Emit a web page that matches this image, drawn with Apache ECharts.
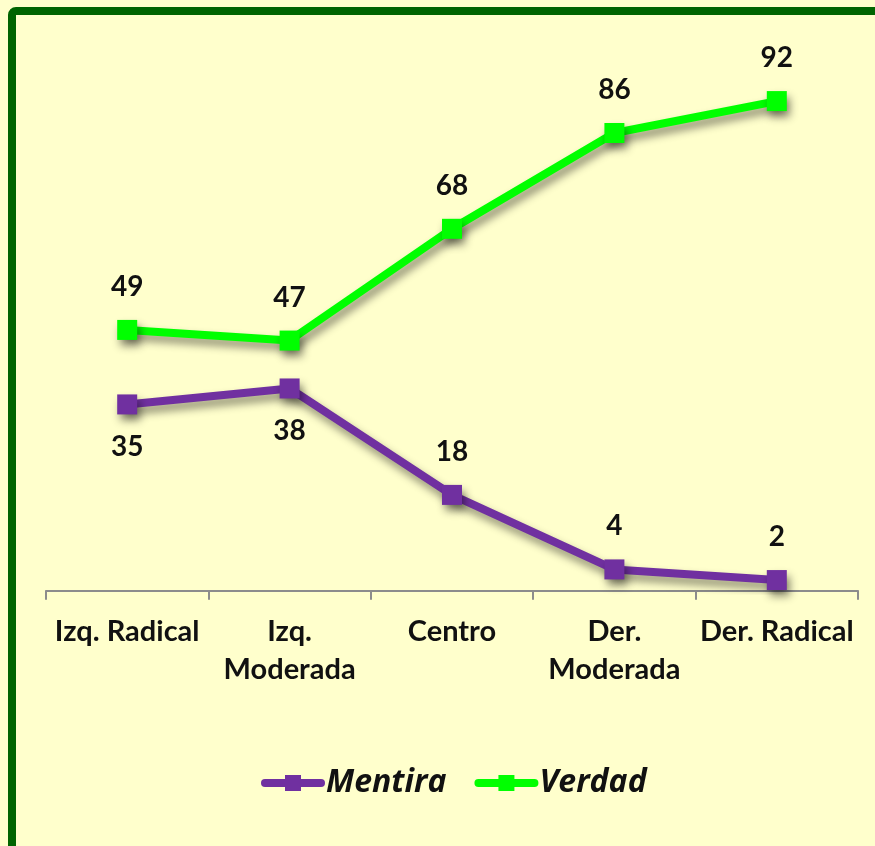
<!DOCTYPE html>
<html>
<head>
<meta charset="utf-8">
<script src="https://cdn.jsdelivr.net/npm/echarts@6/dist/echarts.min.js"></script>
<style>
html,body{margin:0;padding:0;background:#FFFFCC;}
#chart{width:875px;height:846px;}
</style>
</head>
<body>
<div id="chart"></div>
<script>
var categories = ['Izq. Radical', 'Izq.\nModerada', 'Centro', 'Der.\nModerada', 'Der. Radical'];
var mentira = [35, 38, 18, 4, 2];
var verdad = [49, 47, 68, 86, 92];
var mentiraLabelPos = ['bottom', 'bottom', 'top', 'top', 'top'];

var chart = echarts.init(document.getElementById('chart'));
var labelStyle = {fontFamily: 'Lato', fontWeight: 'bold', fontSize: 28, color: '#111', distance: 19};
var shadow = {shadowColor: 'rgba(0,0,0,0.45)', shadowBlur: 8, shadowOffsetX: 3, shadowOffsetY: 6};

chart.setOption({
  backgroundColor: '#FFFFCC',
  animation: false,
  graphic: [{
    type: 'rect', z: -1,
    shape: {x: 12, y: 11, width: 900, height: 900, r: 4},
    style: {fill: 'none', stroke: '#006400', lineWidth: 8}
  }],
  grid: {left: 46, right: 17, top: 58.5, bottom: 255.3},
  xAxis: {
    type: 'category',
    data: categories,
    boundaryGap: true,
    axisLine: {lineStyle: {color: '#8c8c8c', width: 2}},
    axisTick: {show: true, length: 9, lineStyle: {color: '#8c8c8c', width: 2}},
    axisLabel: {fontFamily: 'Lato', fontWeight: 'bold', fontSize: 29, color: '#111', margin: 22, lineHeight: 38, interval: 0}
  },
  yAxis: {type: 'value', min: 0, max: 100, show: false, splitLine: {show: false}},
  legend: {
    bottom: 42, left: 256,
    itemWidth: 56, itemHeight: 20, itemGap: 28,
    lineStyle: {width: 8, cap: 'round'},
    textStyle: {fontFamily: 'Open Sans', fontStyle: 'italic', fontWeight: 'bold', fontSize: 32, color: '#111'},
    data: ['Mentira', 'Verdad']
  },
  series: [{
    name: 'Mentira', type: 'line',
    data: mentira.map(function(v, i){
      return {value: v, label: Object.assign({show: true, position: mentiraLabelPos[i]}, labelStyle)};
    }),
    symbol: 'rect', symbolSize: 20,
    lineStyle: Object.assign({color: '#7030A0', width: 8, cap: 'round'}, shadow),
    itemStyle: Object.assign({color: '#7030A0'}, shadow)
  }, {
    name: 'Verdad', type: 'line', data: verdad,
    symbol: 'rect', symbolSize: 20,
    lineStyle: Object.assign({color: '#00FF00', width: 8, cap: 'round'}, shadow),
    itemStyle: Object.assign({color: '#00FF00'}, shadow),
    label: Object.assign({show: true, position: 'top'}, labelStyle)
  }]
});
</script>
</body>
</html>
